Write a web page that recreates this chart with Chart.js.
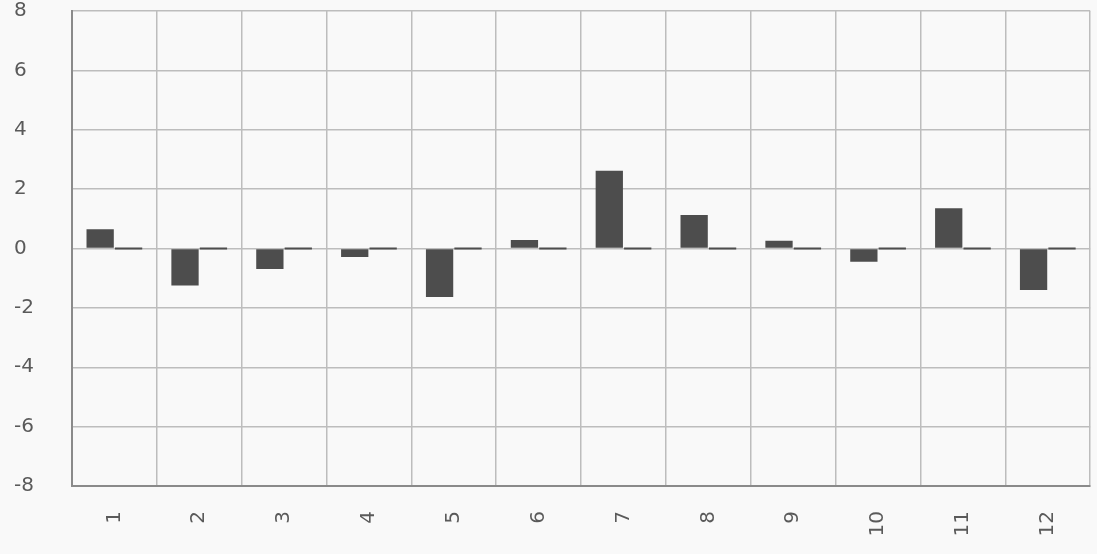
<!DOCTYPE html>
<html>
<head>
<meta charset="utf-8">
<script src="https://cdn.jsdelivr.net/npm/chart.js@4"></script>
<style>
  html, body { margin: 0; padding: 0; background: #f9f9f9; }
  #wrap { width: 1097px; height: 554px; }
</style>
</head>
<body>
<div id="wrap"><canvas id="barChart"></canvas></div>
<script>
const categories = ['1', '2', '3', '4', '5', '6', '7', '8', '9', '10', '11', '12'];
const seriesA = [0.65, -1.25, -0.69, -0.29, -1.63, 0.29, 2.62, 1.13, 0.26, -0.45, 1.36, -1.40];
const seriesB = [0, 0, 0, 0, 0, 0, 0, 0, 0, 0, 0, 0];
const yTicks = [-8, -6, -4, -2, 0, 2, 4, 6, 8];

const ctx = document.getElementById('barChart').getContext('2d');
const barChart = new Chart(ctx, {
    type: 'bar',
    data: {
        labels: categories,
        datasets: [{
            data: seriesA,
            backgroundColor: '#4d4d4d',
            categoryPercentage: 0.67,
            barPercentage: 0.96
        }, {
            data: seriesB,
            backgroundColor: '#4d4d4d',
            minBarLength: 2,
            categoryPercentage: 0.67,
            barPercentage: 0.96
        }]
    },
    options: {
        responsive: true,
        maintainAspectRatio: false,
        animation: false,
        layout: { padding: { top: 0, right: 5, bottom: 0, left: 14 } },
        plugins: {
            legend: { display: false },
            tooltip: { enabled: false }
        },
        scales: {
            x: {
                afterFit: function(axis) {
                    // fixed band under the plot for the rotated labels
                    axis.height = 68;
                },
                grid: {
                    color: '#bdbdbd',
                    lineWidth: 1.5,
                    drawTicks: false,
                    offset: true
                },
                border: { color: '#8a8a8a', width: 2 },
                ticks: {
                    color: '#5a5a5a',
                    font: { family: 'DejaVu Sans', size: 20 },
                    minRotation: 90,
                    maxRotation: 90,
                    padding: 25
                }
            },
            y: {
                min: -8,
                max: 8,
                afterBuildTicks: function(axis) {
                    axis.ticks = yTicks.map(v => ({ value: v }));
                },
                afterFit: function(axis) {
                    // keep the top label from pushing the plot down
                    axis.paddingTop = 11;
                },
                grid: {
                    color: '#bdbdbd',
                    lineWidth: 1.5,
                    drawTicks: false
                },
                border: { color: '#8a8a8a', width: 2 },
                ticks: {
                    color: '#5a5a5a',
                    font: { family: 'DejaVu Sans', size: 20 },
                    padding: 19,
                    crossAlign: 'far'
                }
            }
        }
    }
});
</script>
</body>
</html>
